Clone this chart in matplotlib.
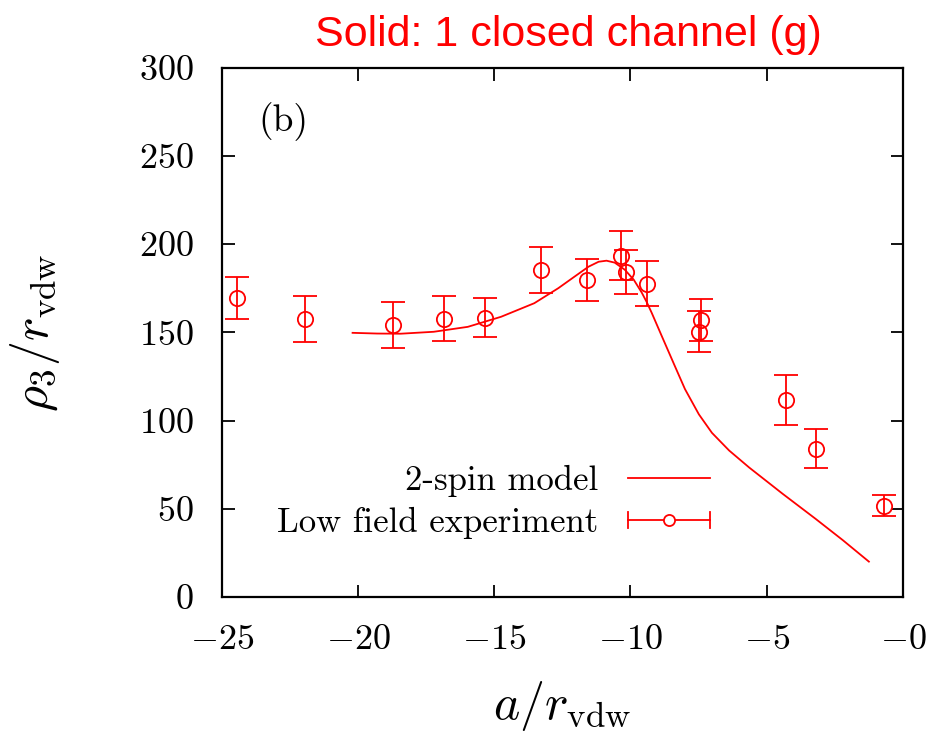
import matplotlib
matplotlib.use("Agg")
import matplotlib.pyplot as plt
from matplotlib.lines import Line2D
from matplotlib.legend_handler import HandlerBase

plt.rcParams["mathtext.fontset"] = "cm"
plt.rcParams["font.family"] = ["cmr10", "DejaVu Serif"]
plt.rcParams["axes.unicode_minus"] = False

# Low-field experiment
exp_a = [-24.45, -21.94, -18.73, -16.85, -15.33, -13.30, -11.60, -10.35,
         -10.17, -9.39, -7.47, -7.40, -4.30, -3.19, -0.68]
exp_rho = [169.6, 157.7, 154.3, 157.7, 158.3, 185.5, 179.8, 193.4,
           184.3, 177.5, 150.3, 157.0, 111.7, 84.0, 51.6]
exp_err = [12.0, 13.0, 13.0, 12.8, 11.0, 13.0, 12.0, 14.0,
           12.5, 12.8, 11.5, 12.0, 14.0, 11.0, 6.0]

# 2-spin model curve
model_a = [-20.2, -19.3, -18.44, -17.22, -15.97, -14.75, -13.53, -12.65,
           -12.06, -11.54, -11.17, -10.88, -10.58, -10.21, -9.88, -9.59,
           -9.40, -9.22, -8.85, -8.37, -8.00, -7.49, -7.01, -6.38,
           -5.64, -4.79, -4.42, -3.21, -2.21, -1.25]
model_rho = [149.7, 149.3, 149.2, 150.3, 153.1, 158.8, 166.5, 175.0,
             181.5, 187.2, 190.0, 190.6, 189.5, 185.5, 179.8, 172.6,
             167.0, 161.0, 147.8, 130.8, 117.8, 103.5, 93.0, 83.0,
             73.3, 63.0, 58.5, 44.3, 32.2, 20.0]

xticks = [-25, -20, -15, -10, -5, 0]
yticks = [0, 50, 100, 150, 200, 250, 300]

red = "#ff0000"

fig = plt.figure(figsize=(9.28, 7.36), dpi=100)
ax = fig.add_axes([0.239, 0.189, 0.734, 0.719])

ax.plot(model_a, model_rho, color=red, lw=1.3)
ax.errorbar(exp_a, exp_rho, yerr=exp_err, fmt="o", color=red, mfc="none",
            ms=11, mew=1.3, elinewidth=1.3, capsize=8.5, capthick=1.3)

ax.set_xlim(-25, 0)
ax.set_ylim(0, 300)
ax.set_xticks(xticks)
ax.set_yticks(yticks)
ax.set_xticklabels([f"${t}$" if t != 0 else "$-0$" for t in xticks])
ax.set_yticklabels([f"${t}$" for t in yticks])
ax.tick_params(direction="in", length=9, width=1.3, top=True, right=True,
               labelsize=26, pad=20)
for s in ax.spines.values():
    s.set_linewidth(1.6)

ax.set_xlabel(r"$a/r_{\rm vdw}$", fontsize=36, labelpad=16)
ax.set_ylabel(r"$\rho_3/r_{\rm vdw}$", fontsize=36, labelpad=56)

ax.text(0.053, 0.898, "(b)", transform=ax.transAxes, fontsize=27,
        va="center", ha="left")

fig.text(0.612, 0.952, "Solid: 1 closed channel (g)", color=red,
         fontsize=31, family="Liberation Sans", ha="center", va="center")


class ErrorBarHandle:
    pass


class HandlerHorizErr(HandlerBase):
    def create_artists(self, legend, orig_handle, xdescent, ydescent,
                       width, height, fontsize, trans):
        y = height / 2 - ydescent
        x0, x1 = -xdescent, -xdescent + width
        line = Line2D([x0, x1], [y, y], color=red, lw=1.3, transform=trans)
        cap = 6
        c0 = Line2D([x0, x0], [y - cap, y + cap], color=red, lw=1.3,
                    transform=trans)
        c1 = Line2D([x1, x1], [y - cap, y + cap], color=red, lw=1.3,
                    transform=trans)
        m = Line2D([(x0 + x1) / 2], [y], marker="o", ms=8, mfc="white",
                   mec=red, mew=1.3, ls="none", transform=trans)
        return [line, c0, c1, m]


model_handle = Line2D([], [], color=red, lw=1.3)
exp_handle = ErrorBarHandle()
ax.legend([model_handle, exp_handle], ["2-spin model", "Low field experiment"],
          handler_map={ErrorBarHandle: HandlerHorizErr()},
          loc="center right", bbox_to_anchor=(0.762, 0.179), frameon=False,
          markerfirst=False, fontsize=25, handlelength=2.35, handletextpad=0.85,
          labelspacing=0.28)

fig.savefig("out.png", dpi=100)
